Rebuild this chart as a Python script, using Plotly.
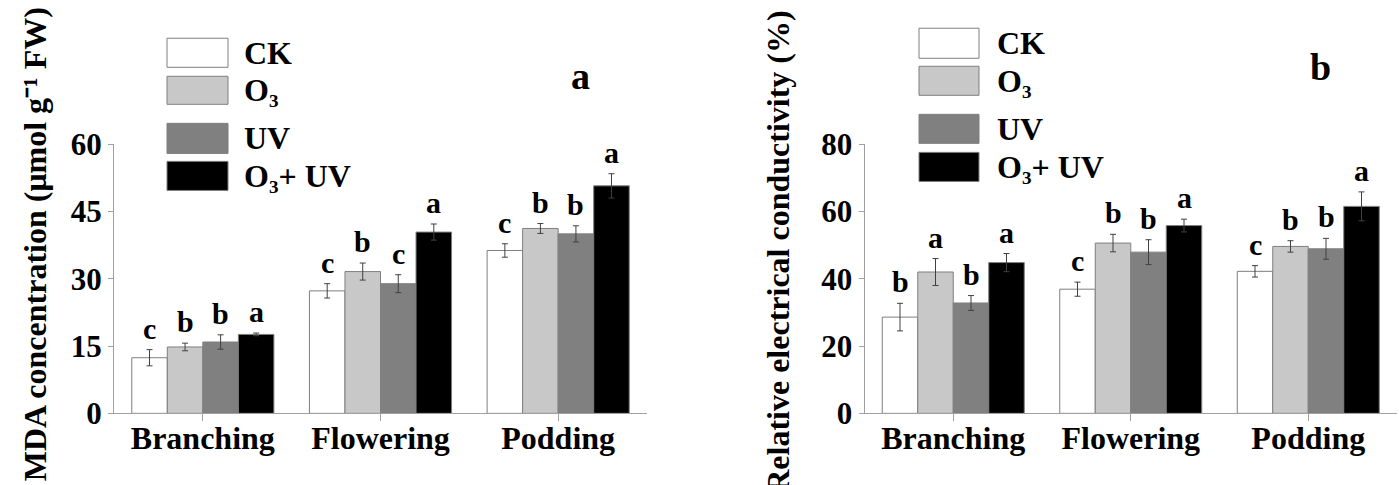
import plotly.graph_objects as go

W, H = 1399, 485

stages = ["Branching", "Flowering", "Podding"]
treatments = ["CK", "O3", "UV", "O3+UV"]
legend_labels = ["CK", "O₃", "UV", "O₃+ UV"]
bar_colors = ["#ffffff", "#c8c8c8", "#808080", "#000000"]

# MDA concentration (µmol g-1 FW)
mda_ck = [12.4, 27.3, 36.3]
mda_o3 = [14.8, 31.6, 41.2]
mda_uv = [15.9, 28.9, 40.0]
mda_o3uv = [17.6, 40.4, 50.7]
mda_ck_se = [1.8, 1.6, 1.5]
mda_o3_se = [0.85, 1.9, 1.1]
mda_uv_se = [1.6, 2.0, 1.8]
mda_o3uv_se = [0.3, 1.8, 2.7]
mda_ck_sig = ["c", "c", "c"]
mda_o3_sig = ["b", "b", "b"]
mda_uv_sig = ["b", "c", "b"]
mda_o3uv_sig = ["a", "a", "a"]

# Relative electrical conductivity (%)
rec_ck = [28.6, 36.9, 42.2]
rec_o3 = [42.0, 50.6, 49.6]
rec_uv = [32.8, 47.9, 48.9]
rec_o3uv = [44.8, 55.8, 61.5]
rec_ck_se = [4.1, 2.1, 1.7]
rec_o3_se = [4.0, 2.6, 1.7]
rec_uv_se = [2.2, 3.7, 3.1]
rec_o3uv_se = [2.7, 1.9, 4.3]
rec_ck_sig = ["b", "c", "c"]
rec_o3_sig = ["a", "b", "b"]
rec_uv_sig = ["b", "b", "b"]
rec_o3uv_sig = ["a", "a", "a"]

mda_ticks = [0, 15, 30, 45, 60]
rec_ticks = [0, 20, 40, 60, 80]

FONT = "Liberation Serif"
AXIS_GRAY = "#a0a0a0"
EDGE_GRAY = "#7f7f7f"

panels = [
    dict(vals=[mda_ck, mda_o3, mda_uv, mda_o3uv],
         errs=[mda_ck_se, mda_o3_se, mda_uv_se, mda_o3uv_se],
         sigs=[mda_ck_sig, mda_o3_sig, mda_uv_sig, mda_o3uv_sig],
         xa="x", ya="y"),
    dict(vals=[rec_ck, rec_o3, rec_uv, rec_o3uv],
         errs=[rec_ck_se, rec_o3_se, rec_uv_se, rec_o3uv_se],
         sigs=[rec_ck_sig, rec_o3_sig, rec_uv_sig, rec_o3uv_sig],
         xa="x2", ya="y2"),
]

BARGAP = 0.2
n_t = len(treatments)
bar_w = (1 - BARGAP) / n_t


def b(text):
    return f"<b>{text}</b>"


def fnt(size):
    return dict(family=FONT, size=size, color="black")


fig = go.Figure()
annotations = []

for p in panels:
    for i, name in enumerate(treatments):
        fig.add_trace(go.Bar(
            x=stages, y=p["vals"][i], name=name, showlegend=False,
            xaxis=p["xa"], yaxis=p["ya"],
            marker=dict(color=bar_colors[i], line=dict(color=EDGE_GRAY, width=1)),
            error_y=dict(type="data", array=p["errs"][i], color="#404040",
                         thickness=1, width=3),
        ))
        # significance letters above each error bar
        off = -(1 - BARGAP) / 2 + bar_w * (i + 0.5)
        for k in range(len(stages)):
            annotations.append(dict(
                x=k + off, y=p["vals"][i][k] + p["errs"][i][k],
                xref=p["xa"], yref=p["ya"], text=b(p["sigs"][i][k]),
                showarrow=False, xanchor="center", yanchor="bottom", yshift=3,
                font=fnt(30),
            ))


def px_x(v):
    return v / W


def px_y(v):
    return 1 - v / H


# legend blocks for each panel (pixel positions from the top-left corner)
legend_pos = [
    dict(x0=167, x1=228, tx=242,
         boxes=[(22.9, 54.2), (63.9, 94.1), (114.6, 147.0), (155.6, 186.9)]),
    dict(x0=919, x1=979, tx=995,
         boxes=[(12.1, 44.5), (53.1, 84.4), (104.9, 136.2), (145.9, 177.2)]),
]
shapes = []
for lg in legend_pos:
    for i, (y0, y1) in enumerate(lg["boxes"]):
        shapes.append(dict(type="rect", xref="paper", yref="paper",
                           x0=px_x(lg["x0"]), x1=px_x(lg["x1"]),
                           y0=px_y(y1), y1=px_y(y0),
                           fillcolor=bar_colors[i], line=dict(color=EDGE_GRAY, width=1)))
        annotations.append(dict(
            x=px_x(lg["tx"]), y=px_y((y0 + y1) / 2), xref="paper", yref="paper",
            text=b(legend_labels[i]), showarrow=False, xanchor="left", yanchor="middle",
            font=fnt(32),
        ))

# panel letters
annotations.append(dict(x=px_x(580), y=px_y(64), xref="paper", yref="paper", text=b("a"),
                        showarrow=False, xanchor="center", yanchor="middle", font=fnt(38)))
annotations.append(dict(x=px_x(1320), y=px_y(54), xref="paper", yref="paper", text=b("b"),
                        showarrow=False, xanchor="center", yanchor="middle", font=fnt(38)))

# y-axis titles
annotations.append(dict(x=px_x(35), y=px_y(245), xref="paper", yref="paper",
                        text=b("MDA concentration (μmol g⁻¹ FW)"), textangle=-90,
                        showarrow=False, xanchor="center", yanchor="middle", font=fnt(32)))
annotations.append(dict(x=px_x(778), y=px_y(252), xref="paper", yref="paper",
                        text=b("Relative electrical conductivity (%)"), textangle=-90,
                        showarrow=False, xanchor="center", yanchor="middle", font=fnt(32)))

y_dom = [px_y(427.2), px_y(137.0)]
xaxis_common = dict(
    type="category", range=[-0.5, 2.5], showline=True, linecolor=AXIS_GRAY, linewidth=1,
    ticks="outside", ticklen=7, tickcolor=AXIS_GRAY, showgrid=False, zeroline=False,
    tickfont=fnt(32), tickvals=stages, ticktext=[b(s) for s in stages],
    ticklabelstandoff=-11,
)
yaxis_common = dict(
    showline=True, linecolor=AXIS_GRAY, linewidth=1, ticks="outside", ticklen=5,
    tickcolor=AXIS_GRAY, showgrid=False, zeroline=False, domain=y_dom,
    tickfont=fnt(31),
)

fig.update_layout(
    width=W, height=H, margin=dict(l=0, r=0, t=0, b=0),
    font=dict(family=FONT, color="black"),
    paper_bgcolor="white", plot_bgcolor="white",
    barmode="group", bargap=BARGAP, bargroupgap=0,
    xaxis=dict(xaxis_common, domain=[px_x(114), px_x(647)], anchor="y"),
    yaxis=dict(yaxis_common, range=[0, 60], tickvals=mda_ticks,
               ticktext=[b(t) for t in mda_ticks], anchor="x"),
    xaxis2=dict(xaxis_common, domain=[px_x(864.5), px_x(1397)], anchor="y2"),
    yaxis2=dict(yaxis_common, range=[0, 80], tickvals=rec_ticks,
                ticktext=[b(t) for t in rec_ticks], anchor="x2"),
    annotations=annotations, shapes=shapes, showlegend=False,
)

fig.write_html("out.html")
